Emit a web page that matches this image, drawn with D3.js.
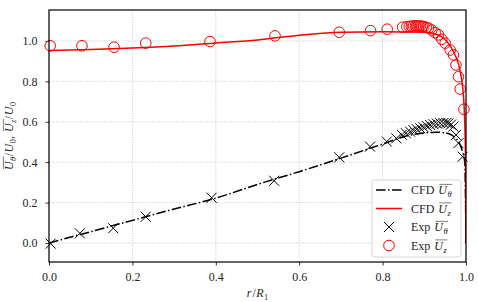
<!DOCTYPE html>
<html>
<head>
<meta charset="utf-8">
<script src="https://cdn.jsdelivr.net/npm/d3@7"></script>
<style>
  body { margin: 0; background: #fff; }
  svg { display: block; }
  text { font-family: "Liberation Serif", "DejaVu Serif", serif; fill: #262626; }
</style>
</head>
<body>
<svg id="chart" width="478" height="302"></svg>
<script>
// CFD profiles
const cfdThetaR = [0, 0.05, 0.1, 0.2, 0.3, 0.4, 0.5, 0.6, 0.7, 0.8, 0.85, 0.9, 0.93, 0.95, 0.965, 0.975, 0.985, 0.992, 0.997, 1.0];
const cfdTheta = [0, 0.028, 0.056, 0.112, 0.168, 0.222, 0.29, 0.353, 0.42, 0.49, 0.525, 0.545, 0.548, 0.545, 0.535, 0.52, 0.49, 0.45, 0.40, 0.0];
const cfdZR = [0, 0.1, 0.2, 0.3, 0.4, 0.5, 0.6, 0.7, 0.8, 0.9, 0.92, 0.94, 0.955, 0.965, 0.975, 0.985, 0.992, 0.996, 0.999, 1.0];
const cfdZ = [0.952, 0.958, 0.965, 0.975, 0.99, 1.005, 1.028, 1.043, 1.045, 1.043, 1.038, 1.022, 0.995, 0.965, 0.925, 0.86, 0.77, 0.65, 0.4, 0.0];

// experimental points
const expThetaR = [0.004, 0.074, 0.154, 0.232, 0.390, 0.540, 0.696, 0.770, 0.810, 0.833, 0.846, 0.856, 0.866, 0.874, 0.882, 0.890, 0.898, 0.906, 0.914, 0.922, 0.930, 0.938, 0.946, 0.953, 0.958, 0.964, 0.970, 0.976, 0.982, 0.992];
const expTheta = [-0.003, 0.048, 0.073, 0.130, 0.224, 0.308, 0.424, 0.477, 0.502, 0.518, 0.535, 0.543, 0.551, 0.558, 0.563, 0.568, 0.573, 0.579, 0.584, 0.588, 0.591, 0.593, 0.594, 0.594, 0.592, 0.586, 0.576, 0.535, 0.494, 0.427];
const expZR = [0.003, 0.079, 0.156, 0.232, 0.386, 0.542, 0.696, 0.771, 0.811, 0.848, 0.858, 0.864, 0.869, 0.874, 0.879, 0.883, 0.887, 0.891, 0.895, 0.899, 0.905, 0.910, 0.918, 0.926, 0.934, 0.942, 0.950, 0.962, 0.970, 0.976, 0.982, 0.986, 0.995];
const expZ = [0.976, 0.976, 0.969, 0.989, 0.997, 1.025, 1.043, 1.051, 1.058, 1.068, 1.070, 1.071, 1.073, 1.074, 1.074, 1.074, 1.074, 1.074, 1.072, 1.071, 1.067, 1.063, 1.054, 1.041, 1.030, 1.008, 0.989, 0.955, 0.931, 0.881, 0.823, 0.762, 0.662];

const xTicks = [0, 0.2, 0.4, 0.6, 0.8, 1.0];
const yTicks = [0, 0.2, 0.4, 0.6, 0.8, 1.0];

const svg = d3.select("#chart");
const pLeft = 49, pRight = 466, pTop = 10, pBottom = 262;
const fontSize = 12;

const x = d3.scaleLinear().domain([0, 1]).range([pLeft, pRight]);
const y = d3.scaleLinear().domain([-0.094, 1.153]).range([pBottom, pTop]);

// small helper for math-ish labels: italic, subscripts, overlines, gaps
function mathText(g, parts, size) {
  let cx = 0;
  const overRuns = [];
  let run = null;
  parts.forEach(p => {
    if (p.gap) { cx += p.gap; run = null; return; }
    const fs = p.sub ? size * 0.7 : size;
    const t = g.append("text")
      .attr("x", cx)
      .attr("y", p.sub ? size * 0.28 : 0)
      .style("font-size", fs + "px")
      .style("font-style", p.it ? "italic" : "normal")
      .text(p.t);
    const w = t.node().getComputedTextLength() + (p.pad || 0);
    if (p.over) {
      if (!run) { run = { x0: cx + (p.it ? 1 : 0), x1: cx + w }; overRuns.push(run); }
      else run.x1 = cx + w;
    } else run = null;
    cx += w;
  });
  overRuns.forEach(r => {
    g.append("line")
      .attr("x1", r.x0).attr("x2", r.x1)
      .attr("y1", -size * 0.8).attr("y2", -size * 0.8)
      .attr("stroke", "#262626").attr("stroke-width", 0.6);
  });
  return cx;
}

// grid
const grid = svg.append("g").attr("stroke", "#b0b0b0").attr("stroke-width", 0.8).attr("stroke-dasharray", "0.8,1.6");
grid.selectAll("line.gx").data(xTicks).join("line")
  .attr("x1", d => x(d)).attr("x2", d => x(d)).attr("y1", pTop).attr("y2", pBottom);
grid.selectAll("line.gy").data(yTicks).join("line")
  .attr("y1", d => y(d)).attr("y2", d => y(d)).attr("x1", pLeft).attr("x2", pRight);

// axes
const xAxis = svg.append("g")
  .attr("transform", `translate(0,${pBottom})`)
  .call(d3.axisBottom(x).tickValues(xTicks).tickFormat(d3.format(".1f")).tickSize(3.5).tickPadding(7));
const yAxis = svg.append("g")
  .attr("transform", `translate(${pLeft},0)`)
  .call(d3.axisLeft(y).tickValues(yTicks).tickFormat(d3.format(".1f")).tickSize(3.5).tickPadding(8));
[xAxis, yAxis].forEach(a => {
  a.attr("font-family", null).attr("font-size", null);
  a.select(".domain").remove();
  a.selectAll(".tick line").attr("stroke", "#000").attr("stroke-width", 0.8);
  a.selectAll(".tick text").attr("fill", "#262626").style("font-size", fontSize + "px");
});

svg.append("clipPath").attr("id", "plot-clip")
  .append("rect").attr("x", pLeft).attr("y", pTop).attr("width", pRight - pLeft).attr("height", pBottom - pTop);

const plot = svg.append("g");

const lineTheta = d3.line().x((d, i) => x(cfdThetaR[i])).y(d => y(d)).curve(d3.curveMonotoneX);
const lineZ = d3.line().x((d, i) => x(cfdZR[i])).y(d => y(d)).curve(d3.curveMonotoneX);

plot.append("path")
  .attr("d", lineTheta(cfdTheta))
  .attr("fill", "none").attr("stroke", "#000").attr("stroke-width", 1.5)
  .attr("stroke-dasharray", "9.6,2.4,1.5,2.4")
  .attr("clip-path", "url(#plot-clip)");

plot.append("path")
  .attr("d", lineZ(cfdZ))
  .attr("fill", "none").attr("stroke", "#ff0000").attr("stroke-width", 1.5)
  .attr("clip-path", "url(#plot-clip)");

const xMark = 5;
function crossPath(cx, cy, s) {
  return `M${cx - s},${cy - s}L${cx + s},${cy + s}M${cx - s},${cy + s}L${cx + s},${cy - s}`;
}

plot.append("g").selectAll("path").data(expTheta).join("path")
  .attr("d", (d, i) => crossPath(x(expThetaR[i]), y(d), xMark))
  .attr("stroke", "#000").attr("stroke-width", 1).attr("fill", "none");

plot.append("g").selectAll("circle").data(expZ).join("circle")
  .attr("cx", (d, i) => x(expZR[i])).attr("cy", d => y(d)).attr("r", 5.3)
  .attr("fill", "none").attr("stroke", "#ff0000").attr("stroke-width", 1);

// frame
svg.append("rect")
  .attr("x", pLeft).attr("y", pTop).attr("width", pRight - pLeft).attr("height", pBottom - pTop)
  .attr("fill", "none").attr("stroke", "#000").attr("stroke-width", 1.2);

// legend
const legend = svg.append("g");
legend.append("rect")
  .attr("x", 372).attr("y", 180).attr("width", 89).attr("height", 77).attr("rx", 2.5)
  .attr("fill", "#fff").attr("fill-opacity", 0.85).attr("stroke", "#cccccc").attr("stroke-width", 0.8);

const legendItems = [
  { kind: "dashdot", sub: "θ" },
  { kind: "line", sub: "z" },
  { kind: "cross", sub: "θ" },
  { kind: "circle", sub: "z" }
];
const rowY = [190, 208.5, 227, 245.5];
legendItems.forEach((item, i) => {
  const cy = rowY[i];
  if (item.kind === "dashdot") {
    legend.append("line").attr("x1", 376).attr("x2", 402).attr("y1", cy).attr("y2", cy)
      .attr("stroke", "#000").attr("stroke-width", 1.5).attr("stroke-dasharray", "9.6,2.4,1.5,2.4");
  } else if (item.kind === "line") {
    legend.append("line").attr("x1", 376).attr("x2", 402).attr("y1", cy).attr("y2", cy)
      .attr("stroke", "#ff0000").attr("stroke-width", 1.5);
  } else if (item.kind === "cross") {
    legend.append("path").attr("d", crossPath(389, cy, xMark))
      .attr("stroke", "#000").attr("stroke-width", 1).attr("fill", "none");
  } else {
    legend.append("circle").attr("cx", 389).attr("cy", cy).attr("r", 5.3)
      .attr("fill", "none").attr("stroke", "#ff0000").attr("stroke-width", 1);
  }
  const lg = legend.append("g").attr("transform", `translate(411,${cy + 4})`);
  mathText(lg, [
    { t: i < 2 ? "CFD" : "Exp" },
    { gap: 4 },
    { t: "U", it: true, over: true, pad: 0.5 },
    { t: item.sub, it: true, sub: true, over: true, pad: 0.5 }
  ], fontSize);
});

// x label
const xl = svg.append("g");
const xw = mathText(xl, [
  { t: "r", it: true, pad: 1 }, { t: "/", pad: 0.5 }, { t: "R", it: true, pad: 0.5 }, { t: "1", sub: true }
], fontSize);
xl.attr("transform", `translate(${(pLeft + pRight) / 2 - xw / 2},297)`);

// y label
const yl = svg.append("g");
const yInner = yl.append("g");
const yw = mathText(yInner, [
  { t: "U", it: true, over: true, pad: 0.5 }, { t: "θ", it: true, sub: true, over: true, pad: 0.5 },
  { t: "/", pad: 0.5 }, { t: "U", it: true, pad: 0.5 }, { t: "0", sub: true },
  { t: "," }, { gap: 4 },
  { t: "U", it: true, over: true, pad: 0.5 }, { t: "z", it: true, sub: true, over: true, pad: 0.5 },
  { t: "/", pad: 0.5 }, { t: "U", it: true, pad: 0.5 }, { t: "0", sub: true }
], fontSize);
yInner.attr("transform", `translate(${-yw / 2},0)`);
yl.attr("transform", `translate(13,${(pTop + pBottom) / 2}) rotate(-90)`);
</script>
</body>
</html>
